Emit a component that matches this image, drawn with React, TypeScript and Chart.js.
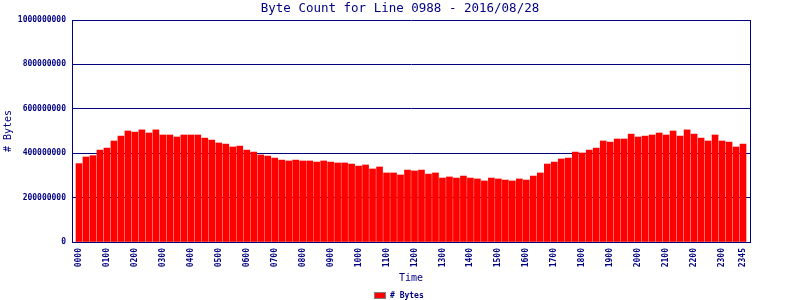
import React, { useEffect, useRef } from 'react';
import { Chart, registerables } from 'chart.js';

Chart.register(...registerables);

const NAVY = '#000080';

const times: string[] = [
  '0000','0015','0030','0045','0100','0115','0130','0145','0200','0215','0230','0245',
  '0300','0315','0330','0345','0400','0415','0430','0445','0500','0515','0530','0545',
  '0600','0615','0630','0645','0700','0715','0730','0745','0800','0815','0830','0845',
  '0900','0915','0930','0945','1000','1015','1030','1045','1100','1115','1130','1145',
  '1200','1215','1230','1245','1300','1315','1330','1345','1400','1415','1430','1445',
  '1500','1515','1530','1545','1600','1615','1630','1645','1700','1715','1730','1745',
  '1800','1815','1830','1845','1900','1915','1930','1945','2000','2015','2030','2045',
  '2100','2115','2130','2145','2200','2215','2230','2245','2300','2315','2330','2345',
];

const tickLabels: string[] = [
  '0000','0100','0200','0300','0400','0500','0600','0700','0800','0900','1000','1100',
  '1200','1300','1400','1500','1600','1700','1800','1900','2000','2100','2200','2300','2345',
];

const byteCounts: number[] = [
  353e6, 383e6, 389e6, 414e6, 423e6, 455e6, 477e6, 500e6, 495e6, 505e6, 491e6, 505e6,
  482e6, 482e6, 473e6, 482e6, 482e6, 482e6, 468e6, 459e6, 446e6, 441e6, 428e6, 432e6,
  414e6, 405e6, 392e6, 387e6, 378e6, 369e6, 365e6, 369e6, 365e6, 365e6, 360e6, 365e6,
  360e6, 356e6, 356e6, 351e6, 342e6, 347e6, 329e6, 338e6, 311e6, 311e6, 302e6, 324e6,
  320e6, 324e6, 306e6, 311e6, 288e6, 293e6, 288e6, 297e6, 288e6, 284e6, 275e6, 288e6,
  284e6, 279e6, 275e6, 284e6, 279e6, 297e6, 311e6, 351e6, 360e6, 374e6, 378e6, 405e6,
  401e6, 414e6, 423e6, 455e6, 450e6, 464e6, 464e6, 486e6, 473e6, 477e6, 482e6, 491e6,
  482e6, 500e6, 477e6, 505e6, 486e6, 468e6, 455e6, 482e6, 455e6, 450e6, 428e6, 441e6,
];

const yTicks: number[] = [0, 200000000, 400000000, 600000000, 800000000, 1000000000];

const legendPlugin = {
  id: 'bottomLegend',
  afterDraw(chart: any) {
    const { ctx } = chart;
    const ds = chart.data.datasets[0];
    ctx.save();
    ctx.fillStyle = ds.backgroundColor;
    ctx.fillRect(374, 292, 12, 7);
    ctx.strokeStyle = '#808080';
    ctx.lineWidth = 1;
    ctx.strokeRect(374.5, 292.5, 11, 6);
    ctx.fillStyle = NAVY;
    ctx.font = 'bold 8px "DejaVu Sans Mono"';
    ctx.textBaseline = 'middle';
    ctx.textAlign = 'left';
    ctx.fillText(ds.label, 390, 296);
    ctx.restore();
  },
};

export default function App() {
  const ref = useRef<HTMLCanvasElement>(null);

  useEffect(() => {
    if (!ref.current) return;
    const tickIdx = tickLabels.map((t) => times.indexOf(t));
    const chart = new Chart(ref.current, {
      type: 'bar',
      data: {
        datasets: [
          {
            label: '# Bytes',
            data: byteCounts.map((v, i) => ({ x: i, y: v })),
            backgroundColor: '#ff0000',
            borderWidth: 0,
            barThickness: 6,
          },
        ],
      },
      plugins: [legendPlugin],
      options: {
        responsive: false,
        animation: false,
        events: [],
        layout: { padding: 0 },
        plugins: {
          legend: { display: false },
          tooltip: { enabled: false },
          title: {
            display: true,
            text: 'Byte Count for Line 0988 - 2016/08/28',
            color: NAVY,
            font: { family: '"DejaVu Sans Mono"', size: 12.5, weight: 'normal' },
            padding: { top: 1.5, bottom: 3.5 },
          },
        },
        scales: {
          x: {
            type: 'linear',
            min: -1,
            max: 96,
            offset: false,
            afterFit(scale: any) {
              scale.height = 58;
            },
            afterBuildTicks(scale: any) {
              scale.ticks = tickIdx.map((v) => ({ value: v }));
            },
            ticks: {
              autoSkip: false,
              minRotation: 90,
              maxRotation: 90,
              padding: 6,
              color: NAVY,
              font: { family: '"DejaVu Sans Mono"', size: 8, weight: 'bold' },
              callback: (v: any) => times[v as number] ?? '',
            },
            grid: { display: false, drawTicks: false },
            border: { display: true, color: NAVY, width: 1 },
            title: {
              display: true,
              text: 'Time',
              color: NAVY,
              font: { family: '"DejaVu Sans Mono"', size: 10, weight: 'normal' },
              padding: { top: 0, bottom: 16 },
            },
          },
          y: {
            min: 0,
            max: 1000000000,
            afterFit(scale: any) {
              scale.width = 72;
            },
            afterBuildTicks(scale: any) {
              scale.ticks = yTicks.map((v) => ({ value: v }));
            },
            ticks: {
              padding: 6,
              color: NAVY,
              font: { family: '"DejaVu Sans Mono"', size: 8, weight: 'bold' },
              callback: (v: any) => String(v),
            },
            grid: { color: NAVY, drawTicks: false, lineWidth: 1 },
            border: { display: true, color: NAVY, width: 1 },
            title: {
              display: true,
              text: '# Bytes',
              color: NAVY,
              font: { family: '"DejaVu Sans Mono"', size: 10, weight: 'normal' },
              padding: { top: 2, bottom: 0 },
            },
          },
          yRight: {
            type: 'linear',
            position: 'right',
            min: 0,
            max: 1000000000,
            afterFit(scale: any) {
              scale.width = 50;
            },
            ticks: { display: false },
            grid: { display: false, drawTicks: false },
            border: { display: true, color: NAVY, width: 1 },
          },
        },
      },
    });
    return () => chart.destroy();
  }, []);

  return (
    <div style={{ position: 'absolute', left: 0, top: 0, width: 800, height: 300, background: '#fff' }}>
      <canvas ref={ref} width={800} height={300} />
    </div>
  );
}
